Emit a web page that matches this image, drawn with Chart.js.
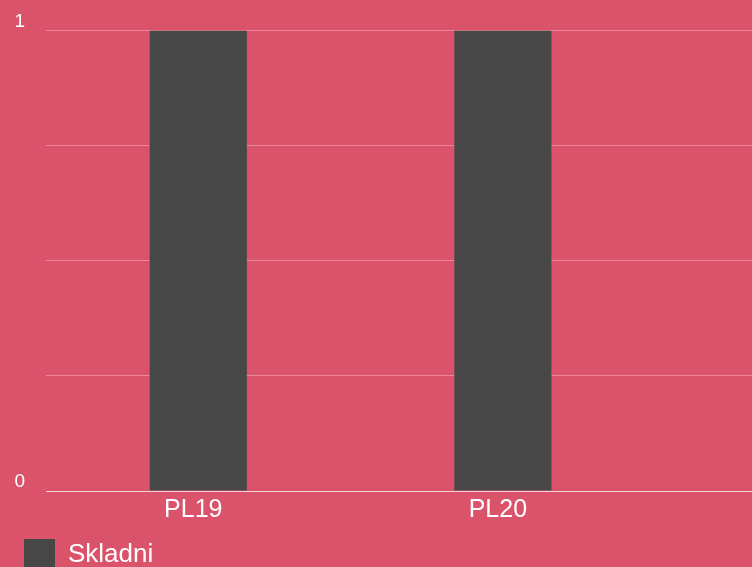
<!DOCTYPE html>
<html>
<head>
<meta charset="utf-8">
<script src="https://cdn.jsdelivr.net/npm/chart.js@4"></script>
<style>
  html, body { margin:0; padding:0; width:752px; height:567px; overflow:hidden; background:#DA536A; }
  #wrap { position:relative; width:752px; height:582px; margin-top:-2px; }
</style>
</head>
<body>
<div id="wrap"><canvas id="c"></canvas></div>
<script>
const categories = ['PL19', 'PL20'];
const seriesName = 'Skladni';
const values = [1, 1];
const yLabeledTicks = [0, 1];

const FONT = "'Liberation Sans', Arial, sans-serif";

new Chart(document.getElementById('c'), {
  type: 'bar',
  data: {
    datasets: [{
      label: seriesName,
      data: categories.map((c, i) => ({ x: i, y: values[i] })),
      backgroundColor: '#474747',
      borderWidth: 0,
      barPercentage: 1,
      categoryPercentage: 0.319
    }]
  },
  options: {
    responsive: true,
    maintainAspectRatio: false,
    animation: false,
    layout: { padding: { top: 0, right: 0, left: 14, bottom: 0 } },
    plugins: {
      tooltip: { enabled: false },
      legend: {
        position: 'bottom',
        align: 'start',
        labels: {
          color: '#FFFFFF',
          boxWidth: 31,
          boxHeight: 31,
          padding: 10,
          font: { family: FONT, size: 26 }
        }
      }
    },
    scales: {
      x: {
        type: 'linear',
        offset: false,
        bounds: 'data',
        min: -0.5,
        max: 1.818,
        afterBuildTicks: s => { s.ticks = categories.map((c, i) => ({ value: i })); },
        grid: { display: false, drawTicks: false, offset: false },
        border: { display: true, color: '#F4D3D8', width: 1 },
        ticks: {
          color: '#FFFFFF',
          font: { family: FONT, size: 25 },
          padding: 4,
          labelOffset: -5,
          maxRotation: 0,
          autoSkip: false,
          callback: v => categories[v] ?? ''
        }
      },
      y: {
        min: 0,
        max: 1,
        afterFit: s => { s.width = 32; },
        grid: {
          drawTicks: false,
          color: ctx => (ctx.tick && ctx.tick.value === 0) ? '#F4D3D8' : '#EA8796',
          lineWidth: 1
        },
        border: { display: false },
        ticks: {
          stepSize: 0.25,
          color: '#FFFFFF',
          font: { family: FONT, size: 19 },
          padding: 21,
          labelOffset: -9,
          callback: v => yLabeledTicks.includes(v) ? String(v) : ''
        }
      }
    }
  }
});
</script>
</body>
</html>
